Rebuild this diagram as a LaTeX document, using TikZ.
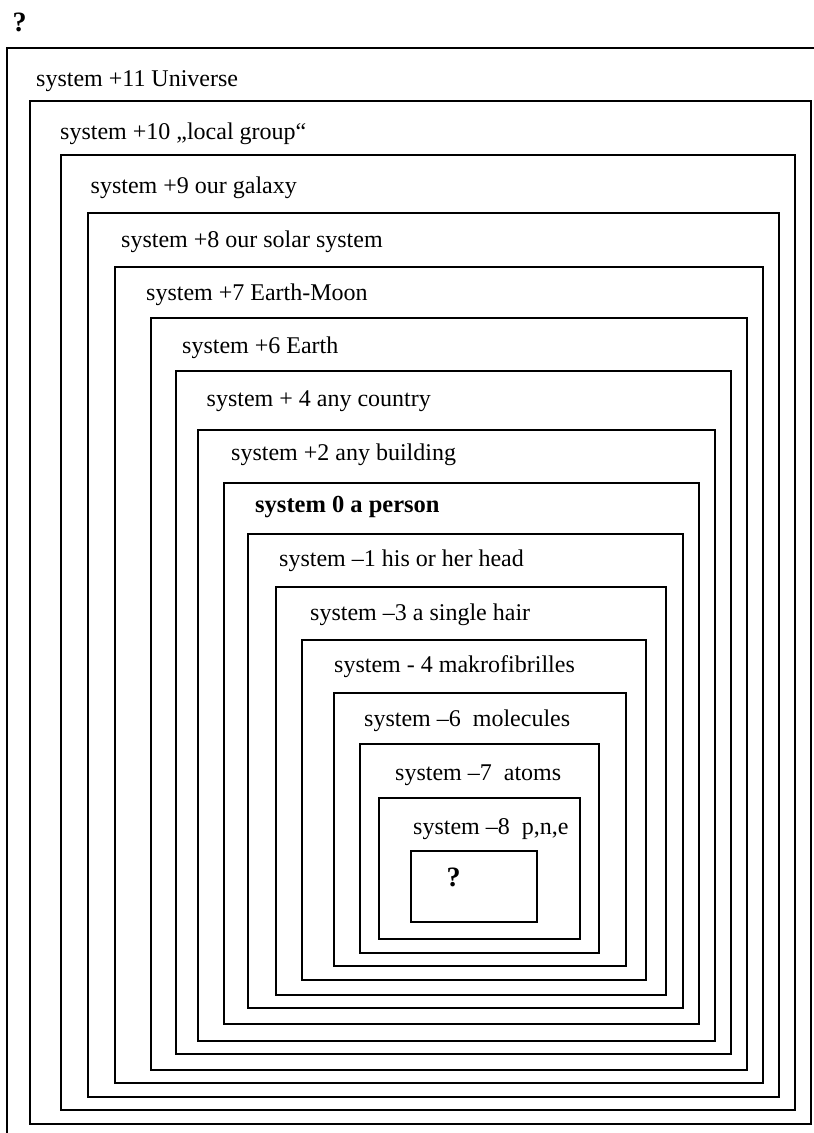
\documentclass[tikz,border=0pt]{standalone}
\usepackage{fontspec}
\setmainfont{Liberation Serif}
\begin{document}
\begin{tikzpicture}[x=1pt,y=-1pt,
  boxline/.style={draw=black,line width=1.8pt},
  lbl/.style={anchor=base west,inner sep=0pt,font=\fontsize{24}{28}\selectfont},
  blbl/.style={lbl,font=\fontsize{24.5}{28}\selectfont\bfseries},
  qlbl/.style={lbl,font=\fontsize{28}{32}\selectfont\bfseries}]
\useasboundingbox (0,0) rectangle (814,1133);
% outermost open frame
\draw[boxline] (7,1140) -- (7,48) -- (820,48);
\node[qlbl] (q0) at (12.5,31.5) {?};
% nested boxes
\draw[boxline] (30,101) rectangle (811,1124);
\draw[boxline] (61,155) rectangle (795,1110);
\draw[boxline] (88,213) rectangle (779,1097);
\draw[boxline] (115,267) rectangle (763,1083);
\draw[boxline] (151,318) rectangle (747,1070);
\draw[boxline] (176,371) rectangle (731,1054);
\draw[boxline] (198,430) rectangle (715,1041);
\draw[boxline] (224,483) rectangle (699,1024);
\draw[boxline] (248,534) rectangle (683,1008);
\draw[boxline] (276,587) rectangle (666,995);
\draw[boxline] (302,640) rectangle (646,980);
\draw[boxline] (334,693) rectangle (626,966);
\draw[boxline] (360,744) rectangle (599,953);
\draw[boxline] (379,798) rectangle (580,939);
\draw[boxline] (411,851) rectangle (537,922);
% labels
\node[lbl] (s11) at (36,86) {system +11 Universe};
\node[lbl] (s10) at (60,139.5) {system +10 „local group“};
\node[lbl] (s9) at (90.5,193) {system +9 our galaxy};
\node[lbl] (s8) at (121,247.5) {system +8 our solar system};
\node[lbl] (s7) at (146,300) {system +7 Earth-Moon};
\node[lbl] (s6) at (182,353.5) {system +6 Earth};
\node[lbl] (s4) at (206.5,406) {system + 4 any country};
\node[lbl] (s2) at (231,460) {system +2 any building};
\node[blbl] (s0) at (255,512.5) {system 0 a person};
\node[lbl] (sm1) at (279,566) {system –1 his or her head};
\node[lbl] (sm3) at (310,620) {system –3 a single hair};
\node[lbl] (sm4) at (334,672.5) {system - 4 makrofibrilles};
\node[lbl] (sm6) at (364,726.5) {system –6 \ molecules};
\node[lbl] (sm7) at (395,780) {system –7 \ atoms};
\node[lbl] (sm8) at (413,834) {system –8 \ p,n,e};
\node[qlbl] (q1) at (446.5,886) {?};
\end{tikzpicture}
\end{document}
